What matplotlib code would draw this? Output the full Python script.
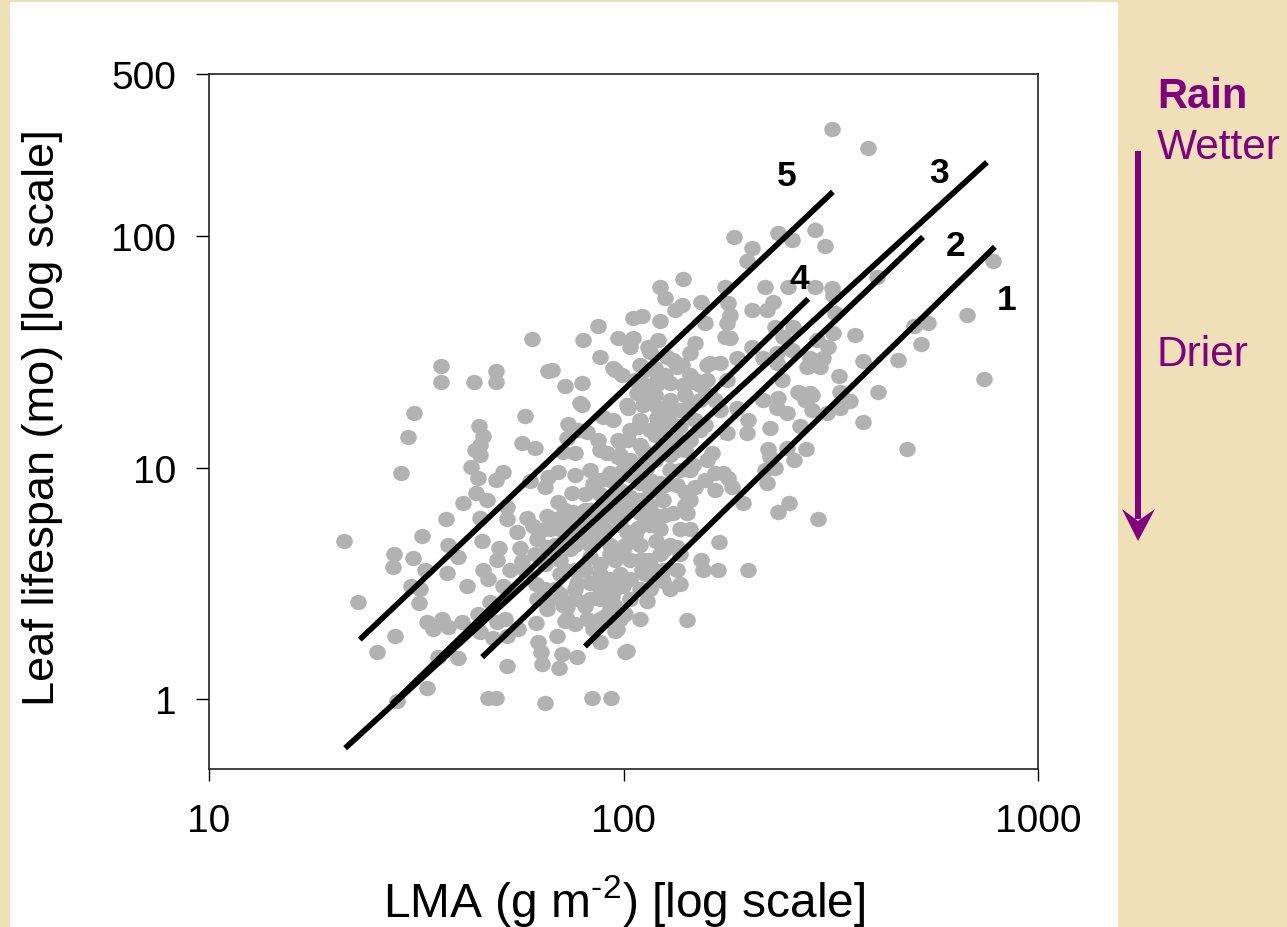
import matplotlib
matplotlib.use("Agg")
import matplotlib.pyplot as plt
from matplotlib.markers import MarkerStyle
from matplotlib.patches import Polygon, Rectangle
from matplotlib.ticker import FixedLocator, FixedFormatter, NullLocator
from matplotlib.transforms import Affine2D

plt.rcParams['font.family'] = ['Liberation Sans', 'DejaVu Sans']
plt.rcParams['mathtext.fontset'] = 'custom'
plt.rcParams['mathtext.rm'] = 'Liberation Sans'
plt.rcParams['mathtext.default'] = 'regular'

W, H = 1287, 928
PARCHMENT = "#efe0b8"
PURPLE = "#800080"

# scatter values, log10 of LMA and of leaf lifespan
log_lma = [
    1.326, 1.360, 1.405, 1.444, 1.446, 1.449, 1.454, 1.463, 1.480, 1.495,
    1.487, 1.492, 1.507, 1.509, 1.514, 1.521, 1.526, 1.526, 1.540, 1.553,
    1.560, 1.560, 1.562, 1.572, 1.574, 1.577, 1.577, 1.601, 1.601, 1.610,
    1.613, 1.622, 1.632, 1.639, 1.642, 1.644, 1.649, 1.649, 1.651, 1.654,
    1.654, 1.654, 1.654, 1.659, 1.661, 1.661, 1.671, 1.673, 1.673, 1.678,
    1.685, 1.693, 1.693, 1.693, 1.693, 1.695, 1.695, 1.700, 1.709, 1.709,
    1.714, 1.719, 1.719, 1.719, 1.719, 1.726, 1.743, 1.746, 1.750, 1.755,
    1.755, 1.763, 1.763, 1.767, 1.775, 1.779, 1.782, 1.787, 1.789, 1.789,
    1.791, 1.791, 1.794, 1.801, 1.804, 1.811, 1.811, 1.816, 1.816, 1.816,
    1.818, 1.818, 1.828, 1.840, 1.842, 1.842, 1.845, 1.852, 1.854, 1.854,
    1.854, 1.859, 1.859, 1.864, 1.864, 1.864, 1.866, 1.871, 1.876, 1.878,
    1.883, 1.888, 1.888, 1.890, 1.895, 1.895, 1.900, 1.900, 1.902, 1.907,
    1.907, 1.907, 1.912, 1.912, 1.919, 1.919, 1.924, 1.927, 1.927, 1.927,
    1.936, 1.939, 1.939, 1.943, 1.943, 1.943, 1.951, 1.956, 1.960, 1.968,
    1.968, 1.968, 1.970, 1.973, 1.975, 1.975, 1.975, 1.980, 1.980, 1.980,
    1.985, 1.987, 1.987, 1.987, 1.992, 1.992, 1.997, 1.999, 1.999, 1.999,
    2.004, 2.009, 2.009, 2.009, 2.011, 2.011, 2.016, 2.016, 2.023, 2.023,
    2.033, 2.035, 2.035, 2.040, 2.040, 2.040, 2.045, 2.045, 2.047, 2.047,
    2.050, 2.057, 2.057, 2.059, 2.064, 2.079, 2.081, 2.081, 2.081, 2.081,
    2.083, 2.083, 2.088, 2.088, 2.088, 2.088, 2.088, 2.096, 2.096, 2.096,
    2.100, 2.105, 2.108, 2.112, 2.112, 2.120, 2.120, 2.124, 2.129, 2.129,
    2.129, 2.129, 2.137, 2.141, 2.141, 2.144, 2.144, 2.149, 2.149, 2.153,
    2.153, 2.161, 2.168, 2.168, 2.173, 2.173, 2.173, 2.187, 2.187, 2.192,
    2.197, 2.202, 2.202, 2.202, 2.209, 2.214, 2.221, 2.221, 2.228, 2.231,
    2.233, 2.240, 2.245, 2.245, 2.250, 2.250, 2.250, 2.252, 2.252, 2.257,
    2.257, 2.262, 2.267, 2.274, 2.274, 2.289, 2.298, 2.298, 2.301, 2.301,
    2.310, 2.310, 2.310, 2.337, 2.337, 2.342, 2.342, 2.347, 2.347, 2.349,
    2.354, 2.354, 2.361, 2.366, 2.366, 2.371, 2.371, 2.371, 2.373, 2.373,
    2.373, 2.383, 2.385, 2.395, 2.395, 2.397, 2.400, 2.407, 2.407, 2.409,
    2.412, 2.421, 2.426, 2.426, 2.438, 2.441, 2.443, 2.450, 2.450, 2.455,
    2.455, 2.457, 2.462, 2.462, 2.467, 2.467, 2.470, 2.474, 2.482, 2.486,
    2.491, 2.494, 2.503, 2.503, 2.506, 2.506, 2.511, 2.520, 2.523, 2.523,
    2.547, 2.559, 2.578, 2.578, 2.590, 2.612, 2.614, 2.663, 2.684, 2.701,
    2.718, 2.735, 2.829, 2.870, 2.892,
    # dense middle of the cloud, estimated
    2.064, 2.100, 2.137, 2.161, 2.185, 2.233, 2.209, 2.064, 2.016, 1.943,
    1.980, 2.040, 2.004, 1.956, 1.919, 2.064, 2.112, 2.149, 2.173, 1.943,
    1.992, 2.040, 1.943, 1.847, 1.835, 1.883, 1.823, 1.859, 1.919, 1.883,
    1.968, 2.052, 2.016, 2.064, 2.112, 2.161,
    2.028, 2.052, 2.076, 2.112, 2.149, 2.185, 2.221, 2.040, 2.076, 2.124,
    2.161, 2.197, 2.040, 2.076, 2.112, 2.161, 2.197, 2.016,
    1.835, 1.883, 1.919, 1.956, 1.992, 2.028, 2.064, 2.100, 2.137, 1.968,
    2.004, 2.040, 2.076, 1.943, 1.980, 2.016, 1.919, 1.883, 1.847, 1.811,
    1.787, 1.823, 1.943, 1.883, 1.931, 1.992, 2.040, 2.064, 1.968, 1.943,
    1.907, 1.871, 1.859, 2.004, 2.040, 2.129, 2.137, 2.100, 1.992, 1.835,
    1.811, 1.943, 1.980, 2.016, 2.088, 2.112, 2.052, 2.064, 2.004, 2.040,
    2.040, 2.076, 2.161, 2.100, 2.052, 2.185, 2.137, 2.088, 2.112, 2.052,
    2.016, 1.980, 1.943, 1.907, 1.883, 1.847, 1.823, 1.859, 1.907, 1.943,
    1.968, 1.992, 1.883, 1.847, 1.811, 1.919, 1.992, 2.028, 2.064, 2.100,
    2.137, 2.161, 2.040, 2.076, 1.943,
]
log_lifespan = [
    .685, .418, .203, .573, .629, .272, -.009, .978, 1.134, 1.237,
    .487, .608, .414, .478, .703, .560, .332, .047, .302, .181,
    1.440, 1.371, .345, .780, .547, .668, .310, .612, .177, .332,
    .849, .491, 1.004, 1.371, 1.078, .892, .957, .366, 1.181, 1.099,
    1.056, .784, .289, .685, 1.138, .560, .858, .517, .004, .418,
    .263, 1.418, 1.371, .948, .004, .603, .332, .655, .983, .487,
    .345, .828, .776, .272, .142, .560, .720, .302, .655, 1.108,
    .595, 1.224, .560, .784, .944, 1.556, .746, 1.086, .496, .328,
    .690, .431, .246, .203, .151, .918, -.017, .789, .659, .388,
    1.418, .961, 1.422, .272, .983, .853, .134, .194, 1.069, .797,
    .409, 1.353, .336, 1.129, .397, .345, 1.190, .647, .892, .810,
    1.065, .504, .181, 1.164, 1.280, .703, 1.366, 1.271, 1.552, .884,
    .418, .401, 1.155, .345, .616, .504, .004, .931, .746, .302,
    .806, 1.612, 1.121, 1.478, 1.078, .246, 1.220, .358, 1.065, .978,
    .625, .517, .004, .444, 1.431, 1.207, .789, 1.422, .401, .293,
    .302, 1.560, 1.121, 1.047, 1.112, 1.056, 1.401, .991, .638, .487,
    .203, 1.271, .724, .207, 1.259, 1.121, 1.521, .875, 1.646, 1.560,
    1.323, 1.177, .741, 1.327, .935, .806, 1.655, .560, 1.271, 1.078,
    .603, 1.004, .422, 1.521, 1.500, .681, 1.379, 1.263, 1.215, .789,
    1.552, 1.366, 1.780, 1.634, 1.078, .935, .733, .862, .560, .509,
    1.733, 1.478, 1.250, 1.366, 1.198, 1.465, .806, 1.681, 1.435, 1.078,
    .659, .560, .496, 1.702, 1.444, 1.815, 1.358, .896, .840, .806,
    .340, 1.496, 1.371, 1.013, 1.539, 1.379, .918, 1.715, .599, .560,
    1.625, 1.444, 1.379, 1.034, 1.452, 1.065, .978, .905, .560, .677,
    1.452, .978, 1.780, 1.565, 1.625, 1.379, 1.151, 1.711, .957, 1.659,
    1.560, .918, 1.996, 1.474, 1.259, .849, 1.892, 1.151, 1.207, .560,
    1.948, 1.681, 1.521, 1.474, 1.293, 1.780, .991, 1.681, .935, 1.082,
    1.172, 1.047, 1.715, 1.608, 1.000, 1.496, 1.452, 1.259, 2.013, 1.302,
    .810, 1.379, 1.565, 1.237, 1.086, 1.780, .849, 1.983, 1.509, 1.608,
    1.034, 1.327, 1.323, 1.181, 1.293, 1.082, 1.435, 1.474, 1.323, 1.315,
    1.250, 1.465, 2.026, 1.780, 1.552, 1.444, .780, 1.435, 1.474, 1.957,
    1.237, 1.521, 2.461, 1.776, 1.746, 1.582, 1.668, 1.396, 1.327, 1.259,
    1.289, 1.573, 1.461, 1.198, 2.379, 1.823, 1.327, 1.465, 1.082, 1.612,
    1.534, 1.625, 1.659, 1.384, 1.892,
    # dense middle of the cloud, estimated
    1.293, 1.121, 1.181, 1.271, 1.164, 1.250, 1.315, 1.164, 1.034, .948,
    .862, .668, .819, .733, .819, .905, .991, 1.078, 1.207, .582,
    .539, .474, .431, .603, .474, .560, .733, .690, .991, .970,
    .862, .776, .517, .603, .668, .733,
    1.379, 1.422, 1.315, 1.293, 1.315, 1.358, 1.293, 1.207, 1.142, 1.142,
    1.121, 1.185, 1.099, 1.034, 1.056, .991, .948, 1.164,
    .776, .733, .668, .819, .754, .819, .840, .797, .733, .668,
    .668, .603, .560, .539, .474, .431, .431, .431, .539, .582,
    .625, .431, .345, .323, .905, .905, .991, .948, .948, .776,
    .776, .754, .819, .991, .862, .926, .991, .926, .862, .668,
    .733, .711, .603, .603, .625, .474, .539, .474, .366, .345,
    1.444, 1.431, 1.401, 1.401, 1.358, 1.293, 1.250, 1.164, 1.099, 1.034,
    .970, .948, .884, .819, .668, .733, .647, .560, .560, .474,
    .388, .345, .474, .453, .474, .690, .819, .711, .754, .647,
    .625, .862, .948, .905, .819,
]

# regression lines per rainfall group, end points in g m-2 and months
line_labels = ["1", "2", "3", "4", "5"]
line_lma = [(80.7, 787), (45.6, 528), (21.3, 753), (27.6, 279), (23.1, 320)]
line_life = [(1.69, 89.7), (1.52, 99), (0.615, 208), (0.95, 53.5), (1.81, 155)]
# where the number sits next to each line
label_lma = [840, 631, 578, 266, 248]
label_life = [53, 90.7, 188, 65.6, 183]

x_ticks = [10, 100, 1000]
y_ticks = [1, 10, 100, 500]


def px(x, y):
    return x / W, 1 - y / H


fig = plt.figure(figsize=(W / 100, H / 100), dpi=100, facecolor=PARCHMENT)

# white panel the chart was pasted on
fig.add_artist(Rectangle(px(10, 928), 1108 / W, 925 / H, transform=fig.transFigure,
                         facecolor="white", edgecolor="none", zorder=-1))

ax = fig.add_axes([209 / W, 1 - 770 / H, 829 / W, 695 / H], facecolor="white")
ax.set_xscale("log")
ax.set_yscale("log")
ax.set_xlim(10, 1000)
ax.set_ylim(0.5, 500)

lma = [10 ** v for v in log_lma]
life = [10 ** v for v in log_lifespan]
dot = MarkerStyle("o", transform=Affine2D().scale(1.08, 1.0))
ax.scatter(lma, life, s=122, marker=dot, color="#b2b2b2", linewidths=0, zorder=2)

for xs, ys in zip(line_lma, line_life):
    ax.plot(xs, ys, color="black", lw=4.1, solid_capstyle="butt", zorder=3)

for lab, xv, yv in zip(line_labels, label_lma, label_life):
    ax.text(xv, yv, lab, fontsize=25.5, fontweight="bold", ha="center", va="center",
            color="black", zorder=4)

ax.xaxis.set_major_locator(FixedLocator(x_ticks))
ax.xaxis.set_major_formatter(FixedFormatter([str(t) for t in x_ticks]))
ax.xaxis.set_minor_locator(NullLocator())
ax.yaxis.set_major_locator(FixedLocator(y_ticks))
ax.yaxis.set_major_formatter(FixedFormatter([str(t) for t in y_ticks]))
ax.yaxis.set_minor_locator(NullLocator())
ax.tick_params(axis="x", which="major", direction="out", length=8.6, width=1.0,
               labelsize=28, pad=16, color="black")
ax.tick_params(axis="y", which="major", direction="out", length=9.5, width=1.0,
               labelsize=28, pad=14, color="black")
for s in ax.spines.values():
    s.set_linewidth(1.2)
    s.set_color("#222222")

fig.text(*px(624, 917), r"LMA (g m$^{\text{-}2}$) [log scale]", fontsize=34.5,
         ha="center", va="baseline")
fig.text(*px(43, 418), "Leaf lifespan (mo) [log scale]", fontsize=32.5,
         rotation=90, ha="center", va="center")

# rainfall arrow on the right
fig.text(*px(1157, 108), "Rain", fontsize=30, fontweight="bold", color=PURPLE,
         ha="left", va="baseline")
fig.text(*px(1157, 159), "Wetter", fontsize=30.5, color=PURPLE, ha="left", va="baseline")
fig.text(*px(1157, 366), "Drier", fontsize=30.5, color=PURPLE, ha="left", va="baseline")
fig.add_artist(Rectangle(px(1135, 520), 6 / W, 368 / H, transform=fig.transFigure,
                         facecolor=PURPLE, edgecolor="none"))
head = [px(1138, 542), px(1122, 510), px(1138, 522), px(1155, 510)]
fig.add_artist(Polygon(head, closed=True, transform=fig.transFigure,
                       facecolor=PURPLE, edgecolor="none"))

fig.savefig("out.png", dpi=100, facecolor=fig.get_facecolor())
